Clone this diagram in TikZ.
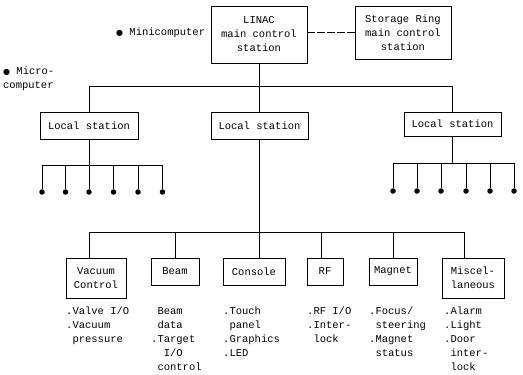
\documentclass[tikz,border=0pt]{standalone}
\usepackage{fontspec}
\setmonofont{Liberation Mono}
\newfontfamily\dejavu{DejaVu Sans}
\begin{document}
\begin{tikzpicture}[x=1pt,y=-1pt,
  every node/.style={font=\ttfamily\fontsize{10.5}{14}\selectfont},
  box/.style={draw,line width=0.75pt,inner sep=0pt,align=center},
  wire/.style={line width=0.75pt},
  desc/.style={anchor=north west,inner sep=0pt,align=left},
  lbl/.style={anchor=west,inner sep=0pt,align=left},
  dot/.style={circle,fill,inner sep=0pt,minimum size=5.5pt}]
\useasboundingbox (0,0) rectangle (523,375);

% top level
\node[box,minimum width=96pt,minimum height=57pt] (linac) at (259,34.5) {LINAC\\main control\\station};
\node[box,minimum width=96pt,minimum height=53pt] (storage) at (403,32.5) {Storage Ring\\main control\\station};
\draw[wire,dash pattern=on 8pt off 2pt] (linac.east |- 0,32) -- (storage.west |- 0,32);

\node[lbl] (mini) at (116,33) {{\dejavu\fontsize{8}{8}\selectfont ●} Minicomputer};
\node[lbl] (micro) at (3,79) {{\dejavu\fontsize{8}{8}\selectfont ●} Micro-\\computer};

% local stations
\node[box,minimum width=98pt,minimum height=27pt] (locL) at (89,125.5) {Local station};
\node[box,minimum width=97pt,minimum height=27pt] (locC) at (259.5,125.5) {Local station};
\node[box,minimum width=97pt,minimum height=24pt] (locR) at (452.5,124) {Local station};

\coordinate (busL) at (89,86);
\coordinate (busC) at (259,86);
\coordinate (busR) at (452.5,86);
\draw[wire] (linac.south -| busC) -- (busC);
\draw[wire] (locL.north -| busL) -- (busL) -- (busR) -- (locR.north -| busR);
\draw[wire] (busC) -- (locC.north -| busC);

% left sub-bus
\coordinate (sl) at (89,165);
\draw[wire] (locL.south -| sl) -- (sl);
\foreach \i/\x in {1/42,2/65.5,3/89,4/113.5,5/138,6/162.5} {
  \node[dot] (dl\i) at (\x,192) {};
}
\draw[wire] (dl1 |- sl) -- (dl6 |- sl);
\foreach \i in {1,...,6} { \draw[wire] (dl\i |- sl) -- (dl\i); }

% right sub-bus
\coordinate (sr) at (452.5,163);
\draw[wire] (locR.south -| sr) -- (sr);
\foreach \i/\x in {1/393,2/417,3/441,4/466,5/490,6/514} {
  \node[dot] (dr\i) at (\x,191) {};
}
\draw[wire] (dr1 |- sr) -- (dr6 |- sr);
\foreach \i in {1,...,6} { \draw[wire] (dr\i |- sr) -- (dr\i); }

% bottom bus
\coordinate (bb) at (259,232);
\draw[wire] (locC.south -| bb) -- (bb);

\node[box,minimum width=60pt,minimum height=40pt] (vac) at (96,278) {Vacuum\\Control};
\node[box,minimum width=48pt,minimum height=27pt] (beam) at (175,271.5) {Beam};
\node[box,minimum width=62pt,minimum height=27pt] (cons) at (254,271.5) {Console};
\node[box,minimum width=36pt,minimum height=27pt] (rf) at (325,271.5) {RF};
\node[box,minimum width=48pt,minimum height=27pt] (mag) at (393,271.5) {Magnet};
\node[box,minimum width=62pt,minimum height=40pt] (misc) at (473,278) {Miscel-\\laneous};

\coordinate (b1) at (89,232);
\coordinate (b2) at (175,232);
\coordinate (b3) at (259,232);
\coordinate (b4) at (321,232);
\coordinate (b5) at (393,232);
\coordinate (b6) at (464,232);
\draw[wire] (b1) -- (b6);
\draw[wire] (b1) -- (vac.north -| b1);
\draw[wire] (b2) -- (beam.north -| b2);
\draw[wire] (b3) -- (cons.north -| b3);
\draw[wire] (b4) -- (rf.north -| b4);
\draw[wire] (b5) -- (mag.north -| b5);
\draw[wire] (b6) -- (misc.north -| b6);

% descriptions
\node[desc] (tvac) at (66,307) {.Valve I/O\\.Vacuum\\\phantom{.}pressure};
\node[desc] (tbeam) at (151,307) {\phantom{.}Beam\\\phantom{.}data\\.Target\\\phantom{.}\phantom{.}I/O\\\phantom{.}control};
\node[desc] (tcons) at (223,307) {.Touch\\\phantom{.}panel\\.Graphics\\.LED};
\node[desc] (trf) at (307,307) {.RF I/O\\.Inter-\\\phantom{.}lock};
\node[desc] (tmag) at (369,307) {.Focus/\\\phantom{.}steering\\.Magnet\\\phantom{.}status};
\node[desc] (tmisc) at (444,307) {.Alarm\\.Light\\.Door\\\phantom{.}inter-\\\phantom{.}lock};
\end{tikzpicture}
\end{document}
